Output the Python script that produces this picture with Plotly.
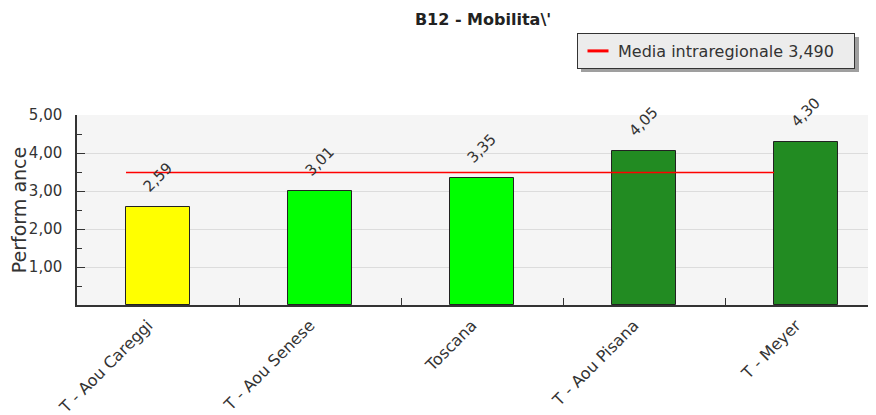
import plotly.graph_objects as go

categories = ["T - Aou Careggi", "T - Aou Senese", "Toscana", "T - Aou Pisana", "T - Meyer"]
values = [2.59, 3.01, 3.35, 4.05, 4.30]
bar_colors = ["#ffff00", "#00ff00", "#00ff00", "#228b22", "#228b22"]
media_value = 3.490
media_label = "Media intraregionale 3,490"
y_ticks = [1, 2, 3, 4, 5]

# page body has an 8px margin: size the figure to the visible area
OFF = 8
W, H = 876 - OFF, 415 - OFF
L, R, T, B = 77 - OFF, 0, 115 - OFF, 110
PW, PH = W - L - R, H - T - B
FONT = "DejaVu Sans"
bw = 0.395
xs = list(range(len(categories)))

fig = go.Figure()
fig.add_trace(go.Bar(
    x=xs, y=values, width=bw,
    marker=dict(color=bar_colors, line=dict(color="#222222", width=1)),
    showlegend=False, hoverinfo="skip",
))
fig.add_trace(go.Scatter(
    x=[xs[0] - bw / 2, xs[-1] - bw / 2], y=[media_value, media_value],
    mode="lines", line=dict(color="#ff0000", width=1.5),
    name=media_label, showlegend=False,
))
# legend entry (short red dash)
fig.add_trace(go.Scatter(
    x=[None], y=[None], mode="markers", name=media_label,
    marker=dict(symbol="line-ew-open", size=15, color="#ff0000",
                line=dict(color="#ff0000", width=3)),
    showlegend=True,
))

for xi, v in zip(xs, values):
    fig.add_annotation(
        x=xi, y=v, text=f"{v:.2f}".replace(".", ","), showarrow=False,
        textangle=-45, yshift=29, xshift=-1,
        font=dict(family=FONT, size=15, color="#333333"),
    )

def px(x, y):
    # reference-window pixel -> plot-area paper coords
    x, y = x - OFF, y - OFF
    return (x - L) / PW, (H - B - y) / PH

# legend shadow
x0, y0 = px(581, 37)
x1, y1 = px(859, 72)
fig.add_shape(type="rect", xref="paper", yref="paper", x0=x0, y0=y1, x1=x1, y1=y0,
              fillcolor="#9f9f9f", line=dict(width=0), layer="below")

lx, ly = px(577, 33)
fig.update_layout(
    width=W, height=H,
    margin=dict(l=L, r=R, t=T, b=B, autoexpand=False),
    paper_bgcolor="white", plot_bgcolor="#f5f5f5",
    separators=",.",
    font=dict(family=FONT, size=15, color="#333333"),
    title=dict(text="<b>B12 - Mobilita\\'</b>", x=(483 - OFF) / W, xanchor="center",
               y=1 - (14 - OFF) / H, yanchor="top", font=dict(family=FONT, size=16, color="#222222")),
    legend=dict(x=lx, y=ly, xanchor="left", yanchor="top", orientation="h",
                entrywidth=231, entrywidthmode="pixels",
                bgcolor="#ececec", bordercolor="#333333", borderwidth=1,
                font=dict(family=FONT, size=16, color="#333333"),
                itemwidth=30),
    bargap=0,
    xaxis=dict(
        range=[-0.5, -0.5 + PW / 162], tickmode="array", tickvals=xs, ticktext=categories,
        tickangle=-45, ticks="", showgrid=False, zeroline=False, automargin=False,
        showline=True, linecolor="#333333", linewidth=1.5,
        ticklabelstandoff=3, ticklabelshift=-10,
        tickfont=dict(family=FONT, size=16, color="#333333"),
        minor=dict(tickmode="array", tickvals=[x + 0.5 for x in xs[:-1]], ticks="inside",
                   ticklen=7, tickcolor="#333333", tickwidth=1, showgrid=False),
        fixedrange=True,
    ),
    yaxis=dict(
        range=[0, 5], tickmode="array", tickvals=y_ticks, tickformat=".2f",
        ticks="inside", ticklen=8, tickcolor="#333333", tickwidth=1,
        showgrid=True, gridcolor="#dcdcdc", gridwidth=1, zeroline=False, automargin=False,
        showline=True, linecolor="#333333", linewidth=1.5, ticklabelstandoff=10,
        tickfont=dict(family=FONT, size=15, color="#333333"),
        title=dict(text="Perform ance", font=dict(family=FONT, size=19, color="#333333"), standoff=2),
        minor=dict(tickmode="array", tickvals=[0.5, 1.5, 2.5, 3.5, 4.5], ticks="inside",
                   ticklen=5, tickcolor="#333333", tickwidth=1, showgrid=False),
        fixedrange=True,
    ),
)

fig.write_html("out.html")
